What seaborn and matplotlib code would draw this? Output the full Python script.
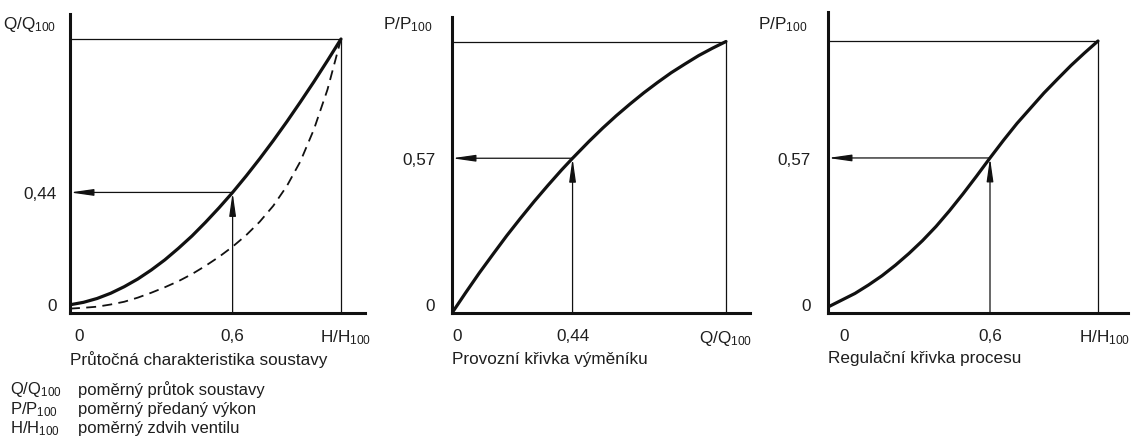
import numpy as np
import pandas as pd
import matplotlib
matplotlib.use("Agg")
import matplotlib.pyplot as plt
import seaborn as sns
from matplotlib.transforms import ScaledTranslation

# --- values ---
grid = [0, 0.05, 0.1, 0.15, 0.2, 0.25, 0.3, 0.35, 0.4, 0.45, 0.5,
        0.55, 0.6, 0.65, 0.7, 0.75, 0.8, 0.85, 0.9, 0.95, 1.0]

# panel 1: flow characteristic of the system (solid) and of the valve (dashed)
q_sys = [0.030, 0.039, 0.053, 0.072, 0.096, 0.124, 0.157, 0.194, 0.236, 0.281, 0.331,
         0.384, 0.440, 0.500, 0.563, 0.629, 0.698, 0.770, 0.844, 0.921, 1.0]
q_valve = [0.016, 0.019, 0.023, 0.031, 0.041, 0.056, 0.074, 0.094, 0.116, 0.142, 0.172,
           0.205, 0.242, 0.284, 0.333, 0.391, 0.463, 0.553, 0.670, 0.815, 1.0]

# panel 2: exchanger operating curve
q_exch = [0, 0.05, 0.1, 0.15, 0.2, 0.25, 0.3, 0.35, 0.4, 0.44, 0.5,
          0.55, 0.6, 0.65, 0.7, 0.75, 0.8, 0.85, 0.9, 0.95, 1.0]
p_exch = [0, 0.075, 0.148, 0.217, 0.285, 0.349, 0.411, 0.470, 0.527, 0.570, 0.632,
          0.681, 0.727, 0.770, 0.811, 0.849, 0.885, 0.917, 0.948, 0.975, 1.0]

# panel 3: control curve of the process
p_proc = [0.022, 0.047, 0.072, 0.103, 0.137, 0.176, 0.219, 0.266, 0.318, 0.376, 0.438,
          0.503, 0.570, 0.635, 0.697, 0.753, 0.809, 0.860, 0.910, 0.956, 1.0]

# reading points (guide arrows)
read_x = [0.6, 0.44, 0.6]
read_y = [0.44, 0.57, 0.57]

sub = r"$_{\mathrm{100}}$"
x_labels = ["H/H" + sub, "Q/Q" + sub, "H/H" + sub]
y_labels = ["Q/Q" + sub, "P/P" + sub, "P/P" + sub]
titles = ["Průtočná charakteristika soustavy", "Provozní křivka výměníku", "Regulační křivka procesu"]
legend_sym = ["Q/Q" + sub, "P/P" + sub, "H/H" + sub]
legend_txt = ["poměrný průtok soustavy", "poměrný předaný výkon", "poměrný zdvih ventilu"]

sns.set_theme(style="white")
plt.rcParams["font.family"] = ["Liberation Sans", "DejaVu Sans"]
plt.rcParams["mathtext.fontset"] = "custom"
plt.rcParams["mathtext.rm"] = "Liberation Sans"
plt.rcParams["mathtext.it"] = "Liberation Sans"

W, H = 1132, 439
fig = plt.figure(figsize=(W / 100, H / 100), dpi=100)
ink = "#111111"
txt = "#1e1e1e"
fs = 12.3

# axes boxes in pixels: left, right, top, bottom, x=1 pixel, y=1 pixel
boxes = [(70, 365, 15, 314, 341, 40),
         (452, 750, 18, 314, 726, 42.5),
         (828, 1128, 13, 314, 1098, 42)]
ytick_pad = [9.5, 12, 12.5]
ylab_off = [10, 14, 15]
x0_shift = [9, 5, 16]
xr_shift = [5, 0, 7]

curves = [[(grid, q_sys, "-"), (grid, q_valve, "--")],
          [(q_exch, p_exch, "-")],
          [(grid, p_proc, "-")]]

for i, (l, r, t, b, x1, y1) in enumerate(boxes):
    ax = fig.add_axes([l / W, 1 - b / H, (r - l) / W, (b - t) / H])
    ax.set_xlim(0, (r - l) / (x1 - l))
    ax.set_ylim(0, (b - t) / (b - y1))

    for xs, ys, ls in curves[i]:
        df = pd.DataFrame({"x": xs, "y": ys})
        if ls == "-":
            sns.lineplot(data=df, x="x", y="y", ax=ax, color=ink, lw=2.3, sort=False)
        else:
            sns.lineplot(data=df, x="x", y="y", ax=ax, color=ink, lw=1.3, sort=False,
                         linestyle=(0, (5.5, 3.5)))

    # frame of 100 %
    ax.hlines(1, 0, 1, color=ink, lw=0.9)
    ax.vlines(1, 0, 1, color=ink, lw=0.9)

    # guide arrows
    rx, ry = read_x[i], read_y[i]
    style = "-|>,head_length=0.7,head_width=0.1"
    for start, end in [((rx, ry), (0, ry)), ((rx, 0), (rx, ry))]:
        ax.annotate("", xy=end, xytext=start,
                    arrowprops=dict(arrowstyle=style, color=ink, lw=0.9, mutation_scale=20,
                                    shrinkA=0, shrinkB=0))

    for s in ["top", "right"]:
        ax.spines[s].set_visible(False)
    for s in ["left", "bottom"]:
        ax.spines[s].set_color(ink)
        ax.spines[s].set_linewidth(2.2)

    ax.set_xticks([0, rx, 1])
    ax.set_xticklabels(["0", f"{rx:g}".replace(".", ","), x_labels[i]])
    ax.set_yticks([0, ry])
    ax.set_yticklabels(["0", f"{ry:g}".replace(".", ",")])
    ax.tick_params(axis="x", length=0, pad=10.5, labelsize=fs, labelcolor=txt)
    ax.tick_params(axis="y", length=0, pad=ytick_pad[i], labelsize=fs, labelcolor=txt)

    xl = ax.get_xticklabels()
    xl[0].set_transform(xl[0].get_transform() + ScaledTranslation(x0_shift[i] / 100, 0, fig.dpi_scale_trans))
    xl[2].set_transform(xl[2].get_transform() + ScaledTranslation(xr_shift[i] / 100, 0, fig.dpi_scale_trans))
    yl = ax.get_yticklabels()
    yl[0].set_transform(yl[0].get_transform() + ScaledTranslation(0, 9 / 100, fig.dpi_scale_trans))

    ax.set_xlabel(titles[i], loc="left", fontsize=fs, color=txt, labelpad=3)
    ax.set_ylabel("")
    ax.annotate(y_labels[i], xy=(0, (b - 25) / (b - y1)),
                xytext=(-ylab_off[i], 0), textcoords="offset points",
                ha="right", va="center", fontsize=fs, color=txt, annotation_clip=False)

# explanation block bottom-left
rows_y = [390, 410, 429]
for sym, desc, yy in zip(legend_sym, legend_txt, rows_y):
    fig.text(10 / W, 1 - yy / H, sym, fontsize=12, color=txt, va="center", ha="left")
    fig.text(78 / W, 1 - yy / H, desc, fontsize=12, color=txt, va="center", ha="left")

fig.savefig("out.png", dpi=100, facecolor="white")
